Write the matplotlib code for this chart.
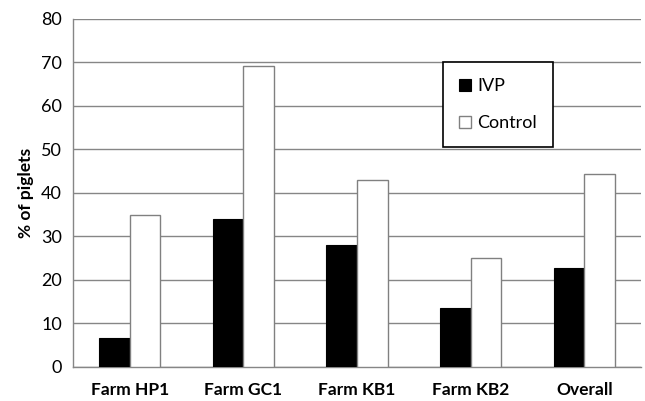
import matplotlib.pyplot as plt
import numpy as np

plt.rcParams['font.family'] = ['Lato', 'DejaVu Sans']

farms = ['Farm HP1', 'Farm GC1', 'Farm KB1', 'Farm KB2', 'Overall']
ivp = [6.7, 34.0, 28.0, 13.5, 22.7]
control = [34.9, 69.2, 43.0, 25.1, 44.4]

fig = plt.figure(figsize=(6.45, 4.01), dpi=100)
ax = fig.add_axes([0.113, 0.085, 0.881, 0.868])

x = np.arange(len(farms))
w = 0.27
ax.bar(x - w/2, ivp, w, color='black', edgecolor='black', linewidth=0.8, label='IVP', zorder=3)
ax.bar(x + w/2, control, w, color='white', edgecolor='#808080', linewidth=1.0, label='Control', zorder=3)

ax.set_xlim(-0.5, len(farms) - 0.5)
ax.set_ylim(0, 80)
ax.set_yticks(range(0, 81, 10))
ax.yaxis.grid(True, color='#868686', linewidth=1.0, zorder=0)
ax.set_axisbelow(True)
ax.set_xticks(x)
ax.set_xticklabels(farms, fontsize=12.5, fontweight='bold')
ax.tick_params(axis='y', labelsize=13, length=0, pad=8)
ax.tick_params(axis='x', length=0, pad=11)
ax.set_ylabel('% of piglets', fontsize=12.5, fontweight='bold', labelpad=5)

for s in ['top', 'right']:
    ax.spines[s].set_visible(False)
for s in ['left', 'bottom']:
    ax.spines[s].set_color('#868686')
    ax.spines[s].set_linewidth(1.0)

leg = ax.legend(loc='upper left', bbox_to_anchor=(0.651, 0.876), fontsize=13,
                fancybox=False, edgecolor='black', framealpha=1,
                handlelength=0.65, handleheight=0.65, handletextpad=0.35,
                labelspacing=1.15, borderpad=0.9, borderaxespad=0)
leg.get_frame().set_linewidth(1.2)
leg.set_zorder(5)

fig.savefig('out.png', dpi=100)
